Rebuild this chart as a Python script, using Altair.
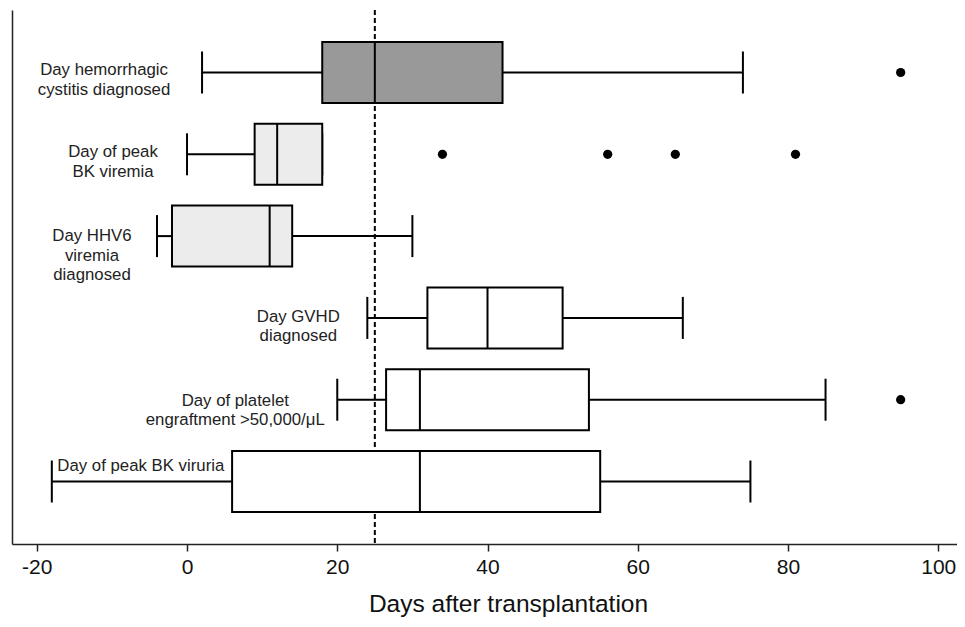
import altair as alt
import pandas as pd

# Box-plot statistics (days after transplantation)
categories = [
    "Day hemorrhagic\ncystitis diagnosed",
    "Day of peak\nBK viremia",
    "Day HHV6\nviremia\ndiagnosed",
    "Day GVHD\ndiagnosed",
    "Day of platelet\nengraftment >50,000/\u03bcL",
    "Day of peak BK viruria",
]
whisker_low = [2, 0, -4, 24, 20, -18]
q1 = [18, 9, -2, 32, 26.5, 6]
median = [25, 12, 11, 40, 31, 31]
q3 = [42, 18, 14, 50, 53.5, 55]
whisker_high = [74, 18, 30, 66, 85, 75]
fill_group = ["dark", "light", "light", "white", "white", "white"]

outlier_cat = [categories[0], categories[1], categories[1], categories[1], categories[1], categories[4]]
outlier_val = [95, 34, 56, 65, 81, 95]

reference_day = 25

boxes = pd.DataFrame({
    "cat": categories, "lo": whisker_low, "q1": q1, "med": median,
    "q3": q3, "hi": whisker_high, "fill": fill_group,
})
outliers = pd.DataFrame({"cat": outlier_cat, "val": outlier_val})

# label offsets (pixels) relative to lower whisker
label_dx = [-98, -74, -65, -69, -102, 89]
label_dy = [-2, -2, 0, -1, 1, -16]

FONT = "Liberation Sans"
xscale = alt.Scale(domain=[-23.3, 102.5], nice=False, zero=False)
yscale = alt.Scale(paddingInner=0.254, paddingOuter=0.391)
yaxis = alt.Axis(labels=False, ticks=False, title=None, domain=True,
                 domainColor="#222", domainWidth=1.5, grid=False)
xaxis = alt.Axis(
    values=[-20, 0, 20, 40, 60, 80, 100], title="Days after transplantation",
    labelExpr="'' + datum.value",
    labelFont=FONT, labelFontSize=21, labelColor="#111", labelPadding=5,
    titleFont=FONT, titleFontSize=24.5, titleFontWeight="normal", titleColor="#111",
    titlePadding=15, titleX=496, titleAlign="center",
    tickColor="#222", tickSize=7, tickWidth=1.5,
    domainColor="#222", domainWidth=1.5, grid=False,
)


def X(field):
    return alt.X(field, scale=xscale)


Y = alt.Y("cat:N", sort=categories, scale=yscale, axis=yaxis)

base = alt.Chart(boxes)

ref = alt.Chart(pd.DataFrame({"x": [reference_day]})).mark_rule(
    color="black", strokeWidth=2, strokeDash=[5, 3]
).encode(x=alt.X("x:Q", scale=xscale, axis=xaxis))

whisk_lo = base.mark_rule(color="black", strokeWidth=2).encode(x=X("lo:Q"), x2="q1:Q", y=Y)
whisk_hi = base.mark_rule(color="black", strokeWidth=2).encode(x=X("q3:Q"), x2="hi:Q", y=Y)
cap_lo = base.mark_tick(color="black", size=42, thickness=2, opacity=1).encode(x=X("lo:Q"), y=Y)
cap_hi = base.mark_tick(color="black", size=42, thickness=2, opacity=1).encode(x=X("hi:Q"), y=Y)

box = base.mark_bar(stroke="black", strokeWidth=2, opacity=1).encode(
    x=X("q1:Q"), x2="q3:Q", y=Y,
    fill=alt.Fill("fill:N", scale=alt.Scale(domain=["dark", "light", "white"],
                                            range=["#999999", "#ececec", "#ffffff"]),
                  legend=None),
)
med = base.mark_tick(color="black", size=61, thickness=2, opacity=1).encode(x=X("med:Q"), y=Y)

outl = alt.Chart(outliers).mark_circle(color="black", size=85, opacity=1).encode(x=X("val:Q"), y=Y)

labels = []
for i, c in enumerate(categories):
    labels.append(
        alt.Chart(boxes.iloc[[i]]).mark_text(
            align="center", baseline="middle", font=FONT, fontSize=16.8,
            lineHeight=19.5, lineBreak="\n", color="#222",
            dx=label_dx[i], dy=label_dy[i],
        ).encode(x=X("lo:Q"), y=Y, text="cat:N")
    )

chart = alt.layer(ref, whisk_lo, whisk_hi, cap_lo, cap_hi, box, med, outl, *labels).properties(
    width=945, height=534,
    background="white",
    autosize=alt.AutoSizeParams(type="none"),
    padding={"left": 4, "top": 2, "right": 0, "bottom": 75},
).configure_view(strokeWidth=0, stroke="transparent").configure_axis(grid=False)

chart.save("out.html", embed_options={"renderer": "svg", "actions": False})
